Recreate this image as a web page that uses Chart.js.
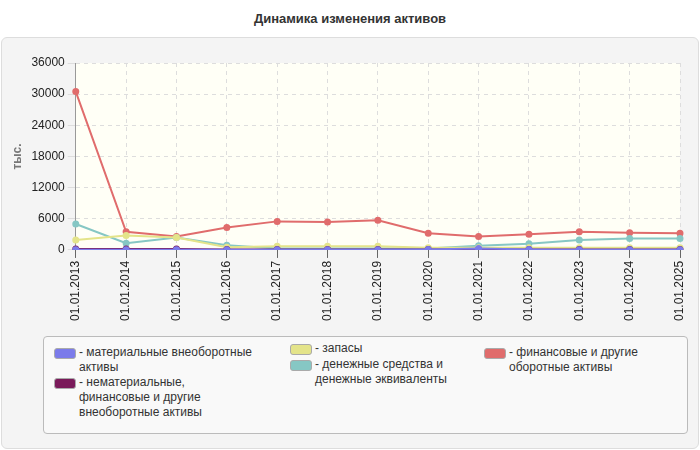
<!DOCTYPE html>
<html><head><meta charset="utf-8">
<script src="https://cdn.jsdelivr.net/npm/chart.js@4"></script>
<style>
body{margin:0;background:#fff;font-family:"Liberation Sans",Arial,sans-serif;}
#title{position:absolute;left:0;top:11px;width:700px;text-align:center;font-weight:bold;font-size:13px;color:#333;}
#panel{position:absolute;left:1px;top:37px;width:696px;height:410px;background:#f4f4f4;border:1px solid #ddd;border-radius:6px;}
#wrap{position:absolute;left:0;top:0;width:696px;height:286px;}
#legend{position:absolute;left:41px;top:298px;width:643px;height:96px;background:#f9f9f9;border:1px solid #bbb;border-radius:4px;font-size:12px;color:#333;}
.it{position:absolute;display:flex;line-height:15px;}
.sw{width:20px;height:9px;border-radius:3px;border:1px solid #aaa;margin-top:3px;margin-right:3px;flex:none;}
</style></head><body>
<div id="title">Динамика изменения активов</div>
<div id="panel"><div id="wrap"><canvas id="c"></canvas></div><div id="legend"></div></div>
<script>
const fechas = ['01.01.2013','01.01.2014','01.01.2015','01.01.2016','01.01.2017','01.01.2018','01.01.2019','01.01.2020','01.01.2021','01.01.2022','01.01.2023','01.01.2024','01.01.2025'];
const materialnye = [50,50,50,50,50,50,50,100,300,100,50,50,50];
const nematerialnye = [200,200,200,100,100,100,100,100,100,100,100,100,100];
const zapasy = [1900,2800,2400,500,700,700,700,400,400,400,400,400,400];
const denezhnye = [5000,1300,2400,900,300,300,300,300,800,1200,1900,2200,2200];
const finansovye = [30500,3500,2600,4300,5500,5400,5700,3200,2600,3000,3500,3300,3200];
const etiquetas = ['материальные внеоборотные активы','нематериальные, финансовые и другие внеоборотные активы','запасы','денежные средства и денежные эквиваленты','финансовые и другие оборотные активы'];
const colores = ['#7b7bea','#7a1a5a','#e4e48a','#86c7c4','#e06c6c'];
const series = [materialnye,nematerialnye,zapasy,denezhnye,finansovye];

const fondo = {id:'fondo',beforeDraw(ch){const a=ch.chartArea,x=ch.ctx;x.save();x.fillStyle='#fffff6';x.fillRect(a.left,a.top,a.width,a.height);x.restore();}};

new Chart(document.getElementById('c'), {
  type:'line',
  data:{labels:fechas,datasets:series.map((d,i)=>({label:etiquetas[i],data:d,borderColor:colores[i],backgroundColor:colores[i],borderWidth:2,pointRadius:2.5,tension:0}))},
  options:{responsive:true,maintainAspectRatio:false,animation:false,
    layout:{padding:{top:25,right:18,left:4}},
    plugins:{legend:{display:false}},
    scales:{
      x:{grid:{color:'#ddd',tickColor:'#666'},border:{color:'#999',dash:[4,4]},ticks:{color:'#222',font:{size:12,family:'Liberation Sans'},maxRotation:90,minRotation:90}},
      y:{min:0,max:36000,grid:{color:'#ddd'},border:{color:'#999',dash:[4,4]},ticks:{stepSize:6000,color:'#222',font:{size:12,family:'Liberation Sans'},callback:v=>String(v)},title:{display:true,text:'тыс.',color:'#777',font:{size:12,weight:'bold'}}}
    }},
  plugins:[fondo]
});

const leg = document.getElementById('legend');
const lugares = [[10,8,210],[10,38,150],[246,4,180],[246,20,180],[440,8,190]];
etiquetas.forEach((t,i)=>{
  const d=document.createElement('div');d.className='it';
  d.style.left=lugares[i][0]+'px';d.style.top=lugares[i][1]+'px';d.style.width=lugares[i][2]+'px';
  d.innerHTML='<div class="sw" style="background:'+colores[i]+'"></div><div>- '+t+'</div>';
  leg.appendChild(d);
});
</script>
</body></html>
